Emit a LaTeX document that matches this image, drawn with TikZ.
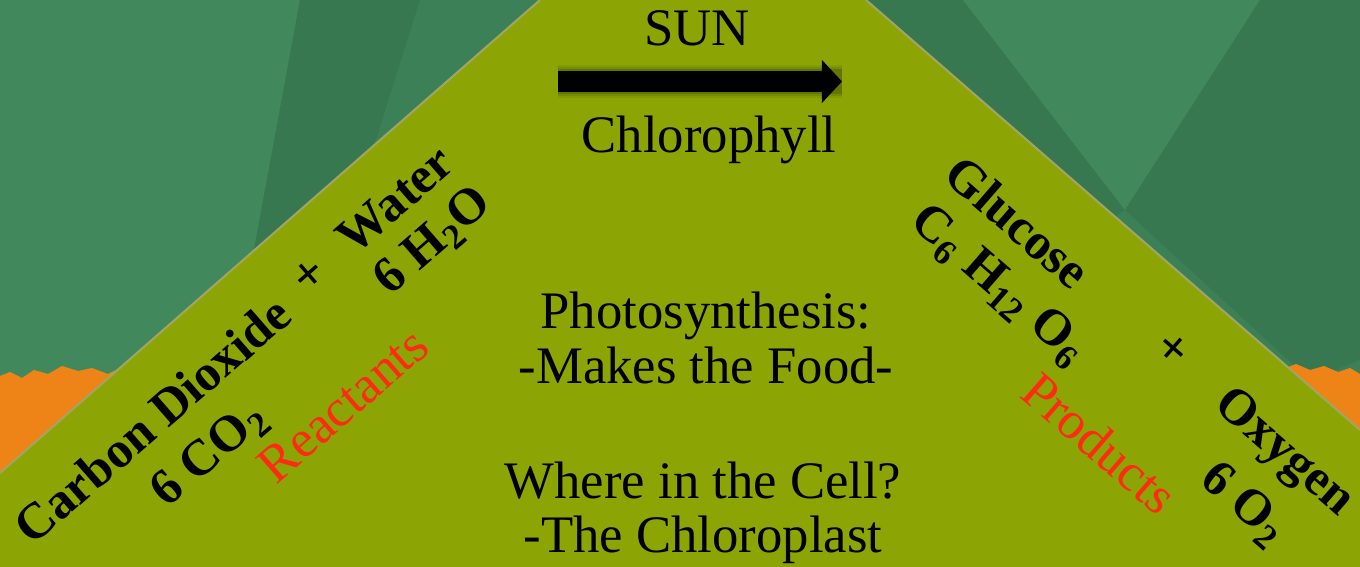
\documentclass[tikz,border=0pt]{standalone}
\usepackage{fontspec}
\setmainfont{Liberation Serif}
\usetikzlibrary{arrows.meta}
\begin{document}
\begin{tikzpicture}[x=0.02cm, y=-0.02cm, line join=round,
    every node/.style={inner sep=0pt, font=\fontsize{30}{31}\selectfont},
    chem/.style={font=\fontsize{29}{30}\selectfont\bfseries},
    plusmark/.style={font=\fontsize{29}{29}\selectfont\bfseries},
    tag/.style={text=tagred, font=\fontsize{30}{31}\selectfont}]
  \definecolor{bgteal}{RGB}{60,128,87}
  \definecolor{bglight}{RGB}{66,136,93}
  \definecolor{bgdark}{RGB}{55,120,81}
  \definecolor{leaf}{RGB}{140,165,4}
  \definecolor{leafedge}{RGB}{160,165,100}
  \definecolor{rust}{RGB}{238,132,24}
  \definecolor{tagred}{RGB}{255,42,20}
  \useasboundingbox (0,0) rectangle (1360,567);
  % background facets
  \fill[bgteal] (0,0) rectangle (1360,567);
  \fill[bglight] (0,0) -- (300,0) -- (230,380) -- (0,380) -- cycle;
  \fill[bgdark] (300,0) -- (420,0) -- (300,380) -- (230,380) -- cycle;
  \fill[bgdark] (866,0) -- (963,0) -- (1125,210) -- (1110,220) -- cycle;
  \fill[bglight] (963,0) -- (1260,0) -- (1125,210) -- cycle;
  \fill[bgdark] (1260,0) -- (1360,0) -- (1360,360) -- (1310,380) -- (1125,210) -- cycle;
  % orange strips
  \fill[rust] (0,376) -- (10,372) -- (22,378) -- (34,370) -- (48,374) -- (62,366)
    -- (78,371) -- (92,368) -- (108,374) -- (122,367) -- (138,372) -- (152,366)
    -- (168,371) -- (182,365) -- (198,370) -- (214,364) -- (230,369) -- (250,366)
    -- (270,372) -- (270,480) -- (0,480) -- cycle;
  \fill[rust] (1283,369) -- (1296,364) -- (1310,370) -- (1324,366) -- (1338,372)
    -- (1350,368) -- (1360,374) -- (1360,440) -- (1283,440) -- cycle;
  % pyramid
  \fill[leaf] (0,473) -- (540,0) -- (866,0) -- (1360,430) -- (1360,567) -- (0,567) -- cycle;
  \draw[leafedge, line width=1.2pt] (0,473) -- (540,0);
  \draw[leafedge, line width=1.2pt] (866,0) -- (1360,430);
  % reaction arrow
  \coordinate (tail) at (558,81.5);
  \coordinate (tip) at (842,81.5);
  \foreach \w/\o in {19pt/0.06, 16pt/0.1, 14pt/0.15}
    \draw[line width=\w, black, opacity=\o] (tail) -- (tip);
  \draw[line width=11.9pt, -{Triangle[length=11.5pt, width=24pt]}] (tail) -- (tip);
  \node (sun) at (697,28.5) {SUN};
  \node (chloro) at (709,140) {Chlorophyll};
  % reactants
  \node[chem, rotate=41] (co2name) at (152,420) {Carbon Dioxide};
  \node[plusmark, rotate=41] (plusl) at (310,276) {+};
  \node[chem, rotate=41] (water) at (395,200) {Water};
  \node[chem, rotate=41] (co2) at (210,455) {6 CO\textsubscript{2}};
  \node[chem, rotate=41] (h2o) at (434,242) {6 H\textsubscript{2}O};
  \node[tag, rotate=41] (reactants) at (343,405) {Reactants};
  % products
  \node[chem, rotate=-41] (glucose) at (1018,222) {Glucose};
  \node[chem, rotate=-41] (c6h12o6) at (998,286) {C\textsubscript{6} H\textsubscript{12} O\textsubscript{6}};
  \node[plusmark, rotate=-41] (plusr) at (1172,350) {+};
  \node[tag, rotate=-41] (products) at (1100,443) {Products};
  \node[chem, rotate=-41] (oxygen) at (1283,454) {Oxygen};
  \node[chem, rotate=-41] (o2) at (1243,505) {6 O\textsubscript{2}};
  % middle text
  \node[align=center] (photo) at (706,338) {Photosynthesis:\\-Makes the Food-};
  \node[align=center] (cell) at (703,513) {Where in the Cell?\\-The Chloroplast};
\end{tikzpicture}
\end{document}
